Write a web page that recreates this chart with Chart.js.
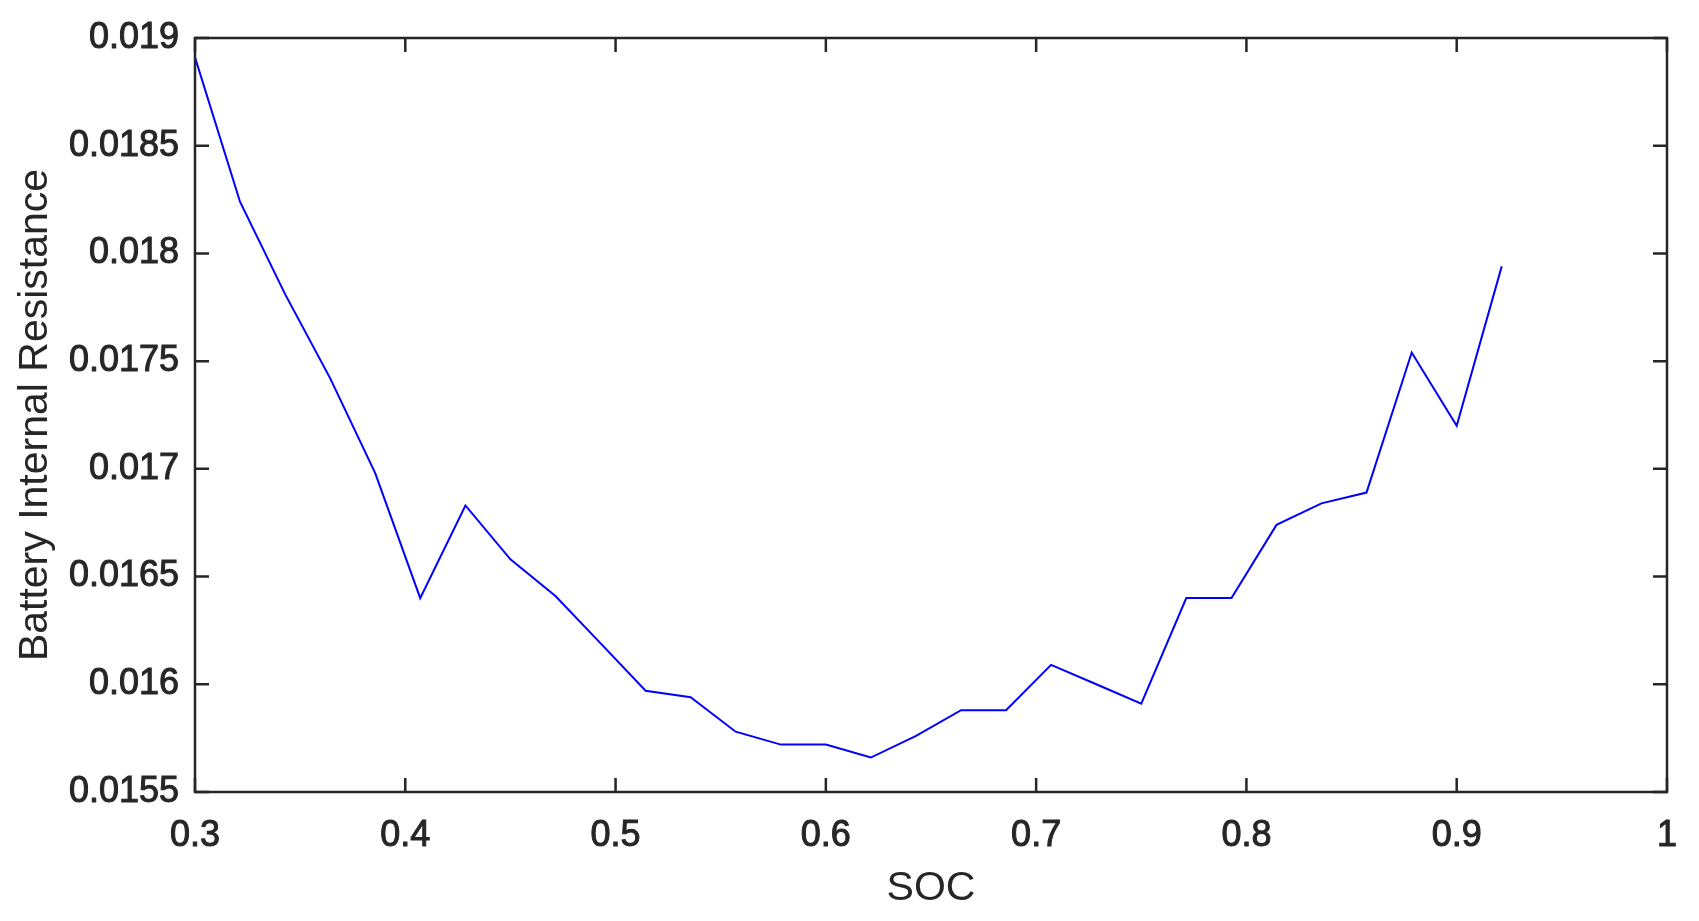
<!DOCTYPE html>
<html>
<head>
<meta charset="utf-8">
<script src="https://cdn.jsdelivr.net/npm/chart.js@4/dist/chart.umd.min.js"></script>
<style>
  html, body { margin: 0; padding: 0; background: #fff; }
</style>
</head>
<body>
<canvas id="myChart" width="1699" height="921"></canvas>
<script>
  // SOC values (x) and measured internal resistance (y)
  const soc = [
    0.3, 0.3214, 0.3429, 0.3643, 0.3857, 0.4071, 0.4286, 0.45, 0.4714, 0.4929,
    0.5143, 0.5357, 0.5571, 0.5786, 0.6, 0.6214, 0.6429, 0.6643, 0.6857, 0.7071,
    0.7286, 0.75, 0.7714, 0.7929, 0.8143, 0.8357, 0.8571, 0.8786, 0.9, 0.9214
  ];
  const resistance = [
    0.01891, 0.01824, 0.01781, 0.01742, 0.01698, 0.01640, 0.01683, 0.01658, 0.01641, 0.01619,
    0.01597, 0.01594, 0.01578, 0.01572, 0.01572, 0.01566, 0.01576, 0.01588, 0.01588, 0.01609,
    0.01600, 0.01591, 0.01640, 0.01640, 0.01674, 0.01684, 0.01689, 0.01754, 0.01720, 0.01794
  ];

  const xTicks = [0.3, 0.4, 0.5, 0.6, 0.7, 0.8, 0.9, 1];
  const xTickLabels = ['0.3', '0.4', '0.5', '0.6', '0.7', '0.8', '0.9', '1'];
  const yTicks = [0.0155, 0.016, 0.0165, 0.017, 0.0175, 0.018, 0.0185, 0.019];
  const yTickLabels = ['0.0155', '0.016', '0.0165', '0.017', '0.0175', '0.018', '0.0185', '0.019'];

  const axisColor = '#262626';
  const font = 'Liberation Sans, Arial, sans-serif';

  // matlab style box with inward tick marks
  const boxPlugin = {
    id: 'box',
    afterDraw(chart) {
      const ctx = chart.ctx;
      const a = chart.chartArea;
      const xs = chart.scales.x;
      const ys = chart.scales.y;
      const len = 14;
      ctx.save();
      ctx.strokeStyle = axisColor;
      ctx.lineWidth = 2.5;
      ctx.beginPath();
      xTicks.forEach(v => {
        const px = xs.getPixelForValue(v);
        ctx.moveTo(px, a.bottom); ctx.lineTo(px, a.bottom - len);
        ctx.moveTo(px, a.top); ctx.lineTo(px, a.top + len);
      });
      yTicks.forEach(v => {
        const py = ys.getPixelForValue(v);
        ctx.moveTo(a.left, py); ctx.lineTo(a.left + len, py);
        ctx.moveTo(a.right, py); ctx.lineTo(a.right - len, py);
      });
      ctx.stroke();
      ctx.strokeRect(a.left, a.top, a.right - a.left, a.bottom - a.top);
      ctx.restore();
    }
  };

  const data = {
    datasets: [{
      label: 'Resistance',
      data: soc.map((s, i) => ({ x: s, y: resistance[i] })),
      borderColor: '#0000ff',
      borderWidth: 2,
      pointRadius: 0,
      tension: 0,
      fill: false
    }]
  };

  const config = {
    type: 'line',
    data: data,
    options: {
      responsive: false,
      animation: false,
      devicePixelRatio: 1,
      layout: {
        padding: { top: 38, right: 32, bottom: 0, left: 0 }
      },
      plugins: {
        legend: { display: false },
        tooltip: { enabled: false }
      },
      scales: {
        x: {
          type: 'linear',
          min: 0.3,
          max: 1,
          afterBuildTicks: s => { s.ticks = xTicks.map(v => ({ value: v })); },
          afterFit: s => { s.height = 129; },
          grid: { display: false, drawTicks: false },
          border: { display: false },
          ticks: {
            autoSkip: false,
            maxRotation: 0,
            padding: 22,
            color: axisColor,
            textStrokeColor: axisColor,
            textStrokeWidth: 1,
            font: { family: font, size: 36 },
            callback: (v, i) => xTickLabels[i]
          },
          title: {
            display: true,
            text: 'SOC',
            color: axisColor,
            font: { family: font, size: 41 },
            padding: { bottom: 8 }
          }
        },
        y: {
          min: 0.0155,
          max: 0.019,
          afterBuildTicks: s => { s.ticks = yTicks.map(v => ({ value: v })); },
          afterFit: s => { s.width = 195; },
          grid: { display: false, drawTicks: false },
          border: { display: false },
          ticks: {
            autoSkip: false,
            padding: 16,
            color: axisColor,
            textStrokeColor: axisColor,
            textStrokeWidth: 1,
            font: { family: font, size: 36 },
            callback: (v, i) => yTickLabels[i]
          },
          title: {
            display: true,
            text: 'Battery Internal Resistance',
            color: axisColor,
            font: { family: font, size: 41 },
            padding: { top: 11 }
          }
        }
      }
    },
    plugins: [boxPlugin]
  };

  const myChart = new Chart(
    document.getElementById('myChart'),
    config
  );
</script>
</body>
</html>
